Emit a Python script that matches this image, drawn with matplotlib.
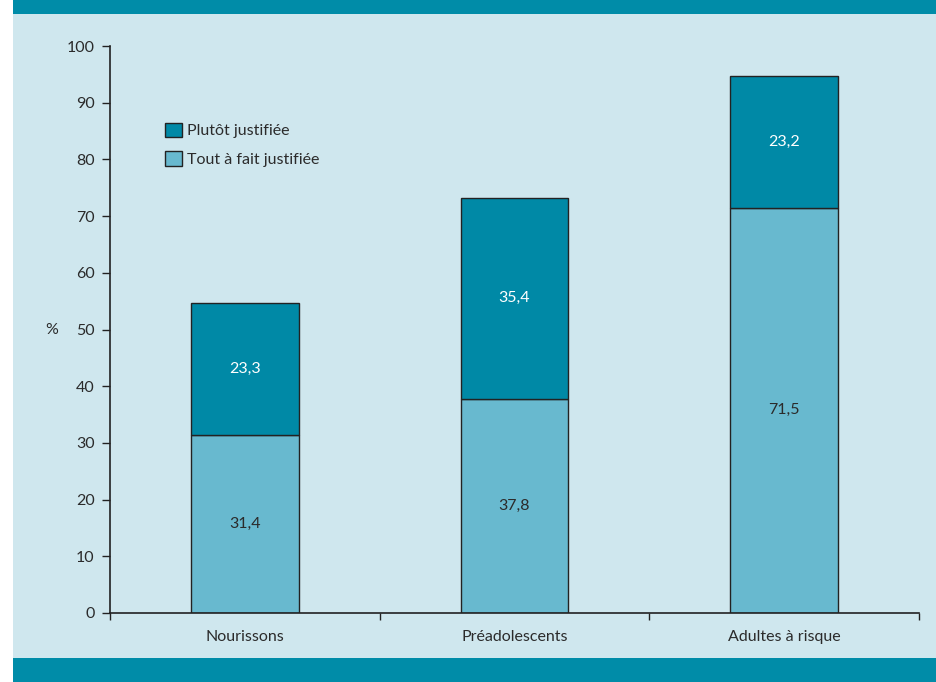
import matplotlib
matplotlib.use('Agg')
import matplotlib.pyplot as plt
from matplotlib.patches import Rectangle
import numpy as np

# Données
categories = ['Nourissons', 'Préadolescents', 'Adultes à risque']
tout_a_fait = [31.4, 37.8, 71.5]
plutot = [23.3, 35.4, 23.2]
yticks = [0, 10, 20, 30, 40, 50, 60, 70, 80, 90, 100]

bg = '#cfe7ee'
band = '#008ca8'
dark = '#0089a6'
light = '#68b9cf'
txt = '#2b2b2b'
fs = 11.5

plt.rcParams['font.family'] = ['Lato', 'DejaVu Sans']

W, H = 937, 682
fig = plt.figure(figsize=(W / 100, H / 100), dpi=100, facecolor='white')

# fond et bandeaux
fig.patches.append(Rectangle((13 / W, 0), 1 - 13 / W, 1, transform=fig.transFigure,
                             facecolor=bg, edgecolor='none', zorder=-3))
fig.patches.append(Rectangle((13 / W, 1 - 14 / H), 1 - 13 / W, 14 / H, transform=fig.transFigure,
                             facecolor=band, edgecolor='none', zorder=-2))
fig.patches.append(Rectangle((13 / W, 0), 1 - 13 / W, 24 / H, transform=fig.transFigure,
                             facecolor=band, edgecolor='none', zorder=-2))

ax = fig.add_axes([110 / W, (H - 613) / H, (919 - 110) / W, (613 - 46) / H])
ax.set_facecolor('none')

x = np.arange(len(categories))
w = 0.4
ax.bar(x, tout_a_fait, width=w, color=light, edgecolor='#222222', linewidth=1.0,
       label='Tout à fait justifiée')
ax.bar(x, plutot, width=w, bottom=tout_a_fait, color=dark, edgecolor='#222222', linewidth=1.0,
       label='Plutôt justifiée')

for i in range(len(categories)):
    ax.text(x[i], tout_a_fait[i] / 2, f'{tout_a_fait[i]:.1f}'.replace('.', ','),
            ha='center', va='center', fontsize=fs, color=txt)
    ax.text(x[i], tout_a_fait[i] + plutot[i] / 2, f'{plutot[i]:.1f}'.replace('.', ','),
            ha='center', va='center', fontsize=fs, color='white')

ax.set_xlim(-0.5, len(categories) - 0.5)
ax.set_ylim(0, 100)
ax.set_yticks(yticks)
ax.tick_params(axis='y', direction='out', length=6, width=1, pad=5, labelsize=fs,
               labelcolor=txt, color='#222222')
ax.set_xticks(x)
ax.set_xticklabels(categories, fontsize=fs, color=txt)
ax.tick_params(axis='x', length=0, pad=12)
# petits traits entre catégories
ax.set_xticks(np.arange(-0.5, len(categories)), minor=True)
ax.tick_params(axis='x', which='minor', direction='out', length=5, width=1, color='#222222')

for s in ['top', 'right']:
    ax.spines[s].set_visible(False)
ax.spines['left'].set_color('#222222')
ax.spines['bottom'].set_color('#222222')
ax.spines['left'].set_linewidth(1.2)
ax.spines['bottom'].set_linewidth(1.2)

fig.text(52 / W, 1 - 330 / H, '%', ha='center', va='center', fontsize=fs, color=txt)

handles, labels = ax.get_legend_handles_labels()
ax.legend(handles[::-1], labels[::-1], loc='upper left', bbox_to_anchor=(0.068, 0.865),
          frameon=False, fontsize=fs, handlelength=1.05, handleheight=1.05,
          handletextpad=0.35, labelspacing=0.8, borderaxespad=0, borderpad=0,
          labelcolor=txt)

fig.savefig('out.png', dpi=100, facecolor=fig.get_facecolor())
